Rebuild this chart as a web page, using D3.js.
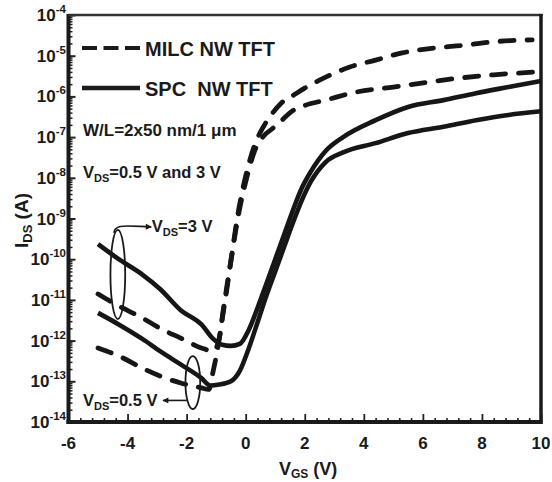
<!DOCTYPE html>
<html>
<head>
<meta charset="utf-8">
<script src="https://cdn.jsdelivr.net/npm/d3@7"></script>
<style>
  html, body { margin: 0; padding: 0; background: #fff; }
  svg text { font-family: 'Liberation Sans', Arial, sans-serif; font-weight: bold; fill: #1a1a1a; }
</style>
</head>
<body>
<div id="chart"></div>
<script>
// V_GS (V) and I_DS (A)
const vgsSpc3 = [-5, -4.3, -3.5, -2.9, -2.2, -1.5, -1.1, -0.8, -0.5, -0.2, 0.1, 0.4, 0.7, 1.0, 1.3, 1.6, 1.9, 2.2, 2.7, 3.3, 4.4, 5.5, 6.7, 7.8, 8.9, 10];
const idsSpc3 = [2.34e-10, 1e-10, 4.2e-11, 1.86e-11, 5.6e-12, 2.5e-12, 1.1e-12, 7.9e-13, 7.4e-13, 8.3e-13, 1.8e-12, 6.3e-12, 2.5e-11, 1.0e-10, 4.0e-10, 1.6e-9, 5.6e-9, 1.4e-8, 4.5e-8, 1.0e-7, 2.6e-7, 5.5e-7, 8.1e-7, 1.2e-6, 1.7e-6, 2.4e-6];

const vgsSpc05 = [-5, -4.3, -3.5, -2.9, -2.2, -1.5, -1.2, -0.9, -0.5, -0.2, 0.1, 0.4, 0.7, 1.0, 1.3, 1.6, 1.9, 2.2, 2.7, 3.3, 4.4, 5.5, 6.7, 7.8, 8.9, 10];
const idsSpc05 = [4.8e-12, 2.5e-12, 1.1e-12, 5.5e-13, 2.6e-13, 1.2e-13, 7.9e-14, 8.3e-14, 1.0e-13, 1.8e-13, 6.3e-13, 2.8e-12, 1.26e-11, 5.0e-11, 2.0e-10, 7.9e-10, 2.8e-9, 7.9e-9, 2.4e-8, 4.2e-8, 7.1e-8, 1.26e-7, 1.8e-7, 2.6e-7, 3.5e-7, 4.3e-7];

const vgsMilc3 = [-5, -4.3, -3.5, -2.9, -2.2, -1.5, -1.1, -0.9, -0.76, -0.6, -0.45, -0.3, -0.15, 0, 0.3, 0.6, 0.9, 1.2, 1.6, 2.0, 2.5, 3.5, 4.4, 5.3, 6.4, 7.4, 8.4, 9.7];
const idsMilc3 = [1.4e-11, 7.1e-12, 3.6e-12, 2.0e-12, 1.15e-12, 6.6e-13, 5.5e-13, 1.1e-12, 5.6e-12, 3.2e-11, 1.6e-10, 8.9e-10, 3.5e-9, 1.1e-8, 6.3e-8, 1.8e-7, 3.8e-7, 6.8e-7, 1.05e-6, 1.6e-6, 2.5e-6, 5.2e-6, 7.8e-6, 1.17e-5, 1.55e-5, 1.8e-5, 2.2e-5, 2.45e-5];

const vgsMilc05 = [-5, -4.3, -3.5, -2.9, -2.2, -1.5, -1.25, -1.1, -0.95, -0.8, -0.65, -0.5, -0.35, -0.2, 0, 0.3, 0.6, 0.9, 1.2, 1.6, 2.0, 2.7, 3.8, 5.0, 6.1, 7.2, 8.4, 9.9];
const idsMilc05 = [6.6e-13, 4.2e-13, 2.1e-13, 1.35e-13, 9.1e-14, 6.9e-14, 6.3e-14, 1.8e-13, 6.3e-13, 3.2e-12, 1.6e-11, 8.9e-11, 4.5e-10, 1.8e-9, 7.9e-9, 4.5e-8, 1.05e-7, 1.6e-7, 2.5e-7, 4.5e-7, 6.0e-7, 8.1e-7, 1.3e-6, 1.7e-6, 2.2e-6, 2.8e-6, 3.4e-6, 4.0e-6];

const xTickLabels = [-6, -4, -2, 0, 2, 4, 6, 8, 10];
const yTickExponents = [-4, -5, -6, -7, -8, -9, -10, -11, -12, -13, -14];
const legendNames = ['MILC NW TFT', 'SPC  NW TFT'];

const W = 552, H = 482;
const plotL = 68.5, plotR = 541, plotT = 15, plotB = 422;

const svg = d3.select('#chart').append('svg')
  .attr('width', W)
  .attr('height', H);

const x = d3.scaleLinear().domain([-6, 10]).range([plotL, plotR]);
const y = d3.scaleLog().domain([1e-14, 1e-4]).range([plotB, plotT]);

// ticks: inward, on left and bottom only
const xMinor = d3.range(-6, 10.001, 0.4).filter(v => Math.abs(v / 2 - Math.round(v / 2)) > 1e-6);
svg.append('g')
  .attr('transform', `translate(0,${plotB})`)
  .call(d3.axisBottom(x).tickValues(xMinor).tickSize(-4).tickFormat(''))
  .call(g => g.select('.domain').remove())
  .call(g => g.selectAll('line').attr('stroke', '#222').attr('stroke-width', 1.6));
svg.append('g')
  .attr('transform', `translate(0,${plotB})`)
  .call(d3.axisBottom(x).tickValues(xTickLabels).tickSize(-8).tickFormat(''))
  .call(g => g.select('.domain').remove())
  .call(g => g.selectAll('line').attr('stroke', '#222').attr('stroke-width', 1.8));

const yMinor = [];
for (let e = -14; e < -4; e++) {
  for (let m = 2; m <= 9; m++) yMinor.push(m * Math.pow(10, e));
}
svg.append('g')
  .attr('transform', `translate(${plotL},0)`)
  .call(d3.axisLeft(y).tickValues(yMinor).tickSize(-4).tickFormat(''))
  .call(g => g.select('.domain').remove())
  .call(g => g.selectAll('line').attr('stroke', '#222').attr('stroke-width', 1.5));
svg.append('g')
  .attr('transform', `translate(${plotL},0)`)
  .call(d3.axisLeft(y).tickValues(yTickExponents.map(e => Math.pow(10, e))).tickSize(-7).tickFormat(''))
  .call(g => g.select('.domain').remove())
  .call(g => g.selectAll('line').attr('stroke', '#222').attr('stroke-width', 2));

// frame
svg.append('line').attr('x1', plotL).attr('x2', plotL).attr('y1', plotT - 1).attr('y2', plotB + 2)
  .attr('stroke', '#1a1a1a').attr('stroke-width', 4);
svg.append('line').attr('x1', plotL - 2).attr('x2', plotR + 1.5).attr('y1', plotB).attr('y2', plotB)
  .attr('stroke', '#1a1a1a').attr('stroke-width', 4);
svg.append('line').attr('x1', plotL).attr('x2', plotR + 1.5).attr('y1', plotT).attr('y2', plotT)
  .attr('stroke', '#333').attr('stroke-width', 2.5);
svg.append('line').attr('x1', plotR).attr('x2', plotR).attr('y1', plotT - 1).attr('y2', plotB + 2)
  .attr('stroke', '#1a1a1a').attr('stroke-width', 3.5);

// tick labels
svg.append('g').selectAll('text')
  .data(xTickLabels)
  .enter().append('text')
  .attr('x', d => x(d))
  .attr('y', 449)
  .attr('text-anchor', 'middle')
  .style('font-size', '17px')
  .text(d => d);

const yLab = svg.append('g').selectAll('text')
  .data(yTickExponents)
  .enter().append('text')
  .attr('x', 66)
  .attr('y', d => y(Math.pow(10, d)) + 6)
  .attr('text-anchor', 'end')
  .style('font-size', '17px');
yLab.append('tspan').text('10');
yLab.append('tspan').attr('dy', -8).style('font-size', '11.5px').text(d => d);

// axis titles
const xt = svg.append('text').attr('x', 279).attr('y', 475).style('font-size', '18px');
xt.append('tspan').text('V');
xt.append('tspan').attr('dy', 3).style('font-size', '12px').text('GS');
xt.append('tspan').attr('dy', -3).text(' (V)');

const yt = svg.append('text')
  .attr('transform', 'translate(28,248) rotate(-90)')
  .style('font-size', '19px');
yt.append('tspan').text('I');
yt.append('tspan').attr('dy', 4).style('font-size', '13px').text('DS');
yt.append('tspan').attr('dy', -4).text(' (A)');

// curves
const series = [
  { v: vgsMilc3, i: idsMilc3, dashed: true },
  { v: vgsMilc05, i: idsMilc05, dashed: true },
  { v: vgsSpc3, i: idsSpc3, dashed: false },
  { v: vgsSpc05, i: idsSpc05, dashed: false }
];
const line = d3.line()
  .x(d => x(d[0]))
  .y(d => y(d[1]))
  .curve(d3.curveMonotoneX);

svg.append('g').selectAll('path')
  .data(series)
  .enter().append('path')
  .attr('d', s => line(s.v.map((v, k) => [v, s.i[k]])))
  .attr('fill', 'none')
  .attr('stroke', '#161616')
  .attr('stroke-width', s => s.dashed ? 4.8 : 4.6)
  .attr('stroke-linecap', s => s.dashed ? 'round' : 'butt')
  .attr('stroke-linejoin', 'round')
  .attr('stroke-dasharray', s => s.dashed ? '14,13' : null);

// legend
const lg = svg.append('g');
lg.append('line').attr('x1', 82).attr('x2', 140).attr('y1', 48).attr('y2', 48)
  .attr('stroke', '#1a1a1a').attr('stroke-width', 4).attr('stroke-dasharray', '15,6.5');
lg.append('line').attr('x1', 82).attr('x2', 140).attr('y1', 88).attr('y2', 88)
  .attr('stroke', '#1a1a1a').attr('stroke-width', 4.5);
lg.selectAll('text.lgt')
  .data(legendNames)
  .enter().append('text')
  .attr('class', 'lgt')
  .attr('x', 145)
  .attr('y', (d, k) => 55.5 + k * 40)
  .style('font-size', '20px')
  .style('white-space', 'pre')
  .attr('xml:space', 'preserve')
  .text(d => d);

svg.append('text').attr('x', 83).attr('y', 136).style('font-size', '17px').text('W/L=2x50 nm/1 \u03bcm');
const vds = svg.append('text').attr('x', 83).attr('y', 178).style('font-size', '16.5px');
vds.append('tspan').text('V');
vds.append('tspan').attr('dy', 4).style('font-size', '11px').text('DS');
vds.append('tspan').attr('dy', -4).text('=0.5 V and 3 V');

// annotations: ellipses in data units
const ell = [
  { v: -4.33, lo: Math.pow(10, -11.47), hi: Math.pow(10, -9.28), dv: 0.25 },
  { v: -1.79, lo: Math.pow(10, -13.68), hi: Math.pow(10, -12.38), dv: 0.25 }
];
svg.append('g').selectAll('ellipse')
  .data(ell)
  .enter().append('ellipse')
  .attr('cx', d => x(d.v))
  .attr('cy', d => (y(d.lo) + y(d.hi)) / 2)
  .attr('rx', d => x(d.v + d.dv) - x(d.v))
  .attr('ry', d => (y(d.lo) - y(d.hi)) / 2)
  .attr('fill', 'none')
  .attr('stroke', '#1a1a1a')
  .attr('stroke-width', 1.8);

svg.append('defs').append('marker')
  .attr('id', 'ah').attr('viewBox', '0 0 10 10').attr('refX', 9).attr('refY', 5)
  .attr('markerWidth', 7).attr('markerHeight', 6).attr('orient', 'auto-start-reverse')
  .attr('markerUnits', 'userSpaceOnUse')
  .append('path').attr('d', 'M0,0L10,5L0,10z').attr('fill', '#1a1a1a');

// arrow to V_DS=3 V label
const a1x = x(-4.33), a1y = y(Math.pow(10, -9.28));
svg.append('path')
  .attr('d', `M${a1x - 4},${a1y + 3} C${a1x - 3},${a1y - 6} ${a1x + 6},${a1y - 4} ${x(-3.2)},${a1y - 3}`)
  .attr('fill', 'none').attr('stroke', '#1a1a1a').attr('stroke-width', 1.6)
  .attr('marker-end', 'url(#ah)');
const t1 = svg.append('text').attr('x', x(-3.18)).attr('y', a1y + 2).style('font-size', '16.5px');
t1.append('tspan').text('V');
t1.append('tspan').attr('dy', 4).style('font-size', '11px').text('DS');
t1.append('tspan').attr('dy', -4).text('=3 V');

// arrow to V_DS=0.5 V label
const a2y = y(Math.pow(10, -13.47));
svg.append('path')
  .attr('d', `M${x(-1.79) - 6},${a2y} L${x(-2.8)},${a2y}`)
  .attr('fill', 'none').attr('stroke', '#1a1a1a').attr('stroke-width', 1.6)
  .attr('marker-end', 'url(#ah)');
const t2 = svg.append('text').attr('x', 83).attr('y', a2y + 6).style('font-size', '16.5px');
t2.append('tspan').text('V');
t2.append('tspan').attr('dy', 4).style('font-size', '11px').text('DS');
t2.append('tspan').attr('dy', -4).text('=0.5 V');
</script>
</body>
</html>
